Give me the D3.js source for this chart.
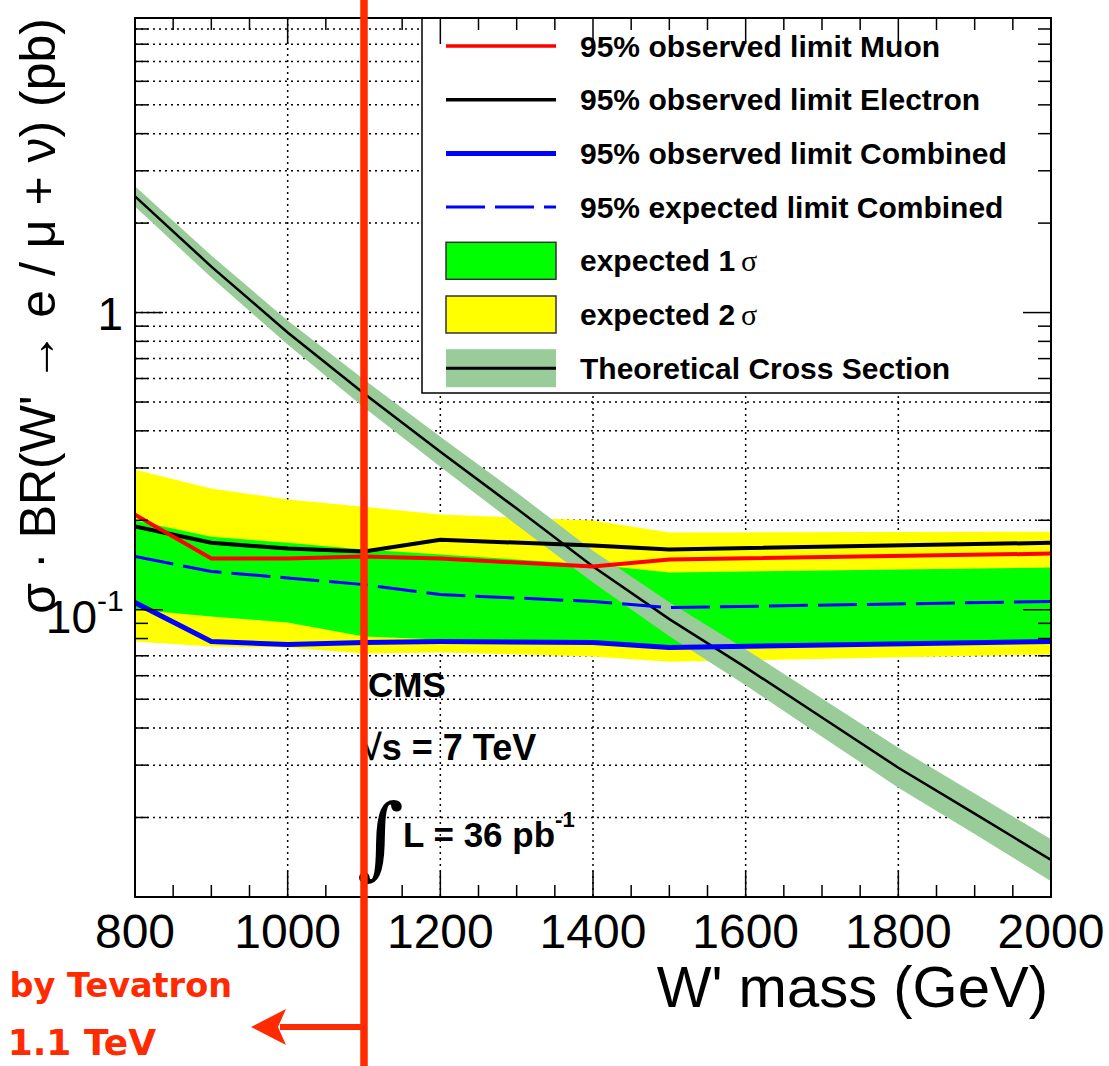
<!DOCTYPE html>
<html>
<head>
<meta charset="utf-8">
<script src="https://cdnjs.cloudflare.com/ajax/libs/d3/7.8.5/d3.min.js"></script>
<style>
  body { margin: 0; background: #fff; }
  svg { font-family: "Liberation Sans", Arial, Helvetica, sans-serif; }
</style>
</head>
<body>
<script>
// Mass points (GeV) where the limits were computed
const massPoints = [800, 900, 1000, 1100, 1200, 1400, 1500, 2000];

// 95% CL limits on sigma x BR (pb)
const obsMuon     = [0.209, 0.1487, 0.1487, 0.151, 0.1487, 0.1397, 0.1476, 0.1545];
const obsElectron = [0.1905, 0.168, 0.1607, 0.157, 0.172, 0.1644, 0.1595, 0.168];
const obsCombined = [0.1057, 0.0782, 0.0764, 0.0776, 0.0782, 0.0776, 0.0746, 0.0782];
const expCombined = [0.151, 0.1345, 0.128, 0.1215, 0.1125, 0.1066, 0.1017, 0.1066];

// expected bands
const exp1Up   = [0.1995, 0.176, 0.168, 0.1595, 0.1534, 0.142, 0.1334, 0.1387];
const exp1Down = [0.1002, 0.0949, 0.0906, 0.0813, 0.0794, 0.0782, 0.0752, 0.0794];
const exp2Up   = [0.296, 0.256, 0.235, 0.222, 0.209, 0.1995, 0.182, 0.183];
const exp2Down = [0.0782, 0.0752, 0.0746, 0.0713, 0.0718, 0.0696, 0.0669, 0.0707];

// theoretical cross section and its band
const theoryMass = [800, 900, 1000, 1100, 1200, 1300, 1400, 1500, 1600, 1700, 1800, 1900, 2000];
const theoryXsec = [2.46, 1.428, 0.857, 0.534, 0.340, 0.219, 0.1397, 0.093, 0.064, 0.0434, 0.0294, 0.0206, 0.0144];
const theoryUp   = [2.66, 1.555, 0.940, 0.595, 0.382, 0.248, 0.158, 0.106, 0.0736, 0.0503, 0.0343, 0.0241, 0.0169];
const theoryDown = [2.276, 1.311, 0.781, 0.479, 0.303, 0.193, 0.1234, 0.0815, 0.0557, 0.0374, 0.0252, 0.0176, 0.0122];

const xTickLabels = [800, 1000, 1200, 1400, 1600, 1800, 2000];
const tevatronLimit = 1100;

const legendLabels = [
  "95% observed limit Muon",
  "95% observed limit Electron",
  "95% observed limit Combined",
  "95% expected limit Combined",
  "expected 1",
  "expected 2",
  "Theoretical Cross Section"
];

// margin convention
const outerWidth = 1109, outerHeight = 1066;
const margin = {top: 18, left: 135, right: 58, bottom: 169};
const width = outerWidth - margin.left - margin.right;
const height = outerHeight - margin.top - margin.bottom;

const xScale = d3.scaleLinear().domain([800, 2000]).range([0, width]);
const yScale = d3.scaleLog().domain([0.0108, 9.8]).range([height, 0]);

const root = d3.select("body").append("svg")
  .attr("width", outerWidth)
  .attr("height", outerHeight);

root.append("defs").append("clipPath").attr("id", "plot-clip")
  .append("rect").attr("width", width).attr("height", height);

const svg = root.append("g")
  .attr("transform", `translate(${margin.left},${margin.top})`);

// tick values
const xMinor = d3.range(800, 2001, 50);
const yMinor = [];
[0.01, 0.1, 1].forEach(dec => {
  for (let k = 1; k <= 9; k++) {
    const v = dec * k;
    if (v > 0.0108 && v < 9.8) yMinor.push(v);
  }
});
const yMajor = [0.1, 1];

// dotted grid
const grid = svg.append("g").attr("stroke", "#000").attr("stroke-width", 1.5)
  .attr("stroke-dasharray", "2,4");
grid.selectAll(".gx").data(xTickLabels).join("line")
  .attr("x1", d => xScale(d)).attr("x2", d => xScale(d))
  .attr("y1", 0).attr("y2", height);
grid.selectAll(".gy").data(yMinor).join("line")
  .attr("x1", 0).attr("x2", width)
  .attr("y1", d => yScale(d)).attr("y2", d => yScale(d));

const plot = svg.append("g").attr("clip-path", "url(#plot-clip)");

const limits = massPoints.map((m, i) => ({
  m, mu: obsMuon[i], el: obsElectron[i], comb: obsCombined[i], exp: expCombined[i],
  u1: exp1Up[i], d1: exp1Down[i], u2: exp2Up[i], d2: exp2Down[i]
}));
const theory = theoryMass.map((m, i) => ({m, v: theoryXsec[i], up: theoryUp[i], dn: theoryDown[i]}));

function band(lo, hi) {
  return d3.area().x(d => xScale(d.m)).y0(d => yScale(d[lo])).y1(d => yScale(d[hi]));
}
function curve(key) {
  return d3.line().x(d => xScale(d.m)).y(d => yScale(d[key]));
}

plot.append("path").datum(limits).attr("fill", "#ffff00").attr("d", band("d2", "u2"));
plot.append("path").datum(limits).attr("fill", "#00ff00").attr("d", band("d1", "u1"));
plot.append("path").datum(theory).attr("fill", "#99cc99").attr("d", band("dn", "up"));
plot.append("path").datum(theory).attr("fill", "none").attr("stroke", "#000")
  .attr("stroke-width", 2.5).attr("d", curve("v"));

plot.append("path").datum(limits).attr("fill", "none").attr("stroke", "#0000ff")
  .attr("stroke-width", 3).attr("stroke-dasharray", "39,10").attr("d", curve("exp"));
plot.append("path").datum(limits).attr("fill", "none").attr("stroke", "#0000ff")
  .attr("stroke-width", 5).attr("d", curve("comb"));
plot.append("path").datum(limits).attr("fill", "none").attr("stroke", "#000")
  .attr("stroke-width", 4).attr("d", curve("el"));
plot.append("path").datum(limits).attr("fill", "none").attr("stroke", "#ff0000")
  .attr("stroke-width", 4).attr("d", curve("mu"));

// CMS labels
svg.append("text").attr("x", 233).attr("y", 679)
  .attr("font-size", 35).attr("font-weight", "bold").text("CMS");
svg.append("text").attr("x", 227).attr("y", 742)
  .attr("font-size", 36).attr("font-weight", "bold").text("\u221As = 7 TeV");
svg.append("text").attr("x", 222).attr("y", 850)
  .attr("font-size", 90)
  .attr("font-family", "'DejaVu Serif', serif").text("\u222B");
const lumi = svg.append("text").attr("x", 268).attr("y", 829)
  .attr("font-size", 35).attr("font-weight", "bold");
lumi.append("tspan").text("L = 36 pb");
lumi.append("tspan").attr("font-size", 22).attr("dy", -20).text("-1");

// legend
const leg = svg.append("g").attr("transform", "translate(287,0)");
leg.append("rect").attr("x", 0).attr("y", 0).attr("width", width - 287).attr("height", 375)
  .attr("fill", "#fff").attr("stroke", "#000").attr("stroke-width", 1.5);
const rowY = d3.range(7).map(i => 28 + i * 53.7);
const sx0 = 24, sx1 = 134;
leg.append("line").attr("x1", sx0).attr("x2", sx1).attr("y1", rowY[0]).attr("y2", rowY[0])
  .attr("stroke", "#ff0000").attr("stroke-width", 3.5);
leg.append("line").attr("x1", sx0).attr("x2", sx1).attr("y1", rowY[1]).attr("y2", rowY[1])
  .attr("stroke", "#000").attr("stroke-width", 3.5);
leg.append("line").attr("x1", sx0).attr("x2", sx1).attr("y1", rowY[2]).attr("y2", rowY[2])
  .attr("stroke", "#0000ff").attr("stroke-width", 5);
leg.append("line").attr("x1", sx0).attr("x2", sx1).attr("y1", rowY[3]).attr("y2", rowY[3])
  .attr("stroke", "#0000ff").attr("stroke-width", 3).attr("stroke-dasharray", "39,10");
leg.append("rect").attr("x", sx0).attr("y", rowY[4] - 18.5).attr("width", sx1 - sx0).attr("height", 37)
  .attr("fill", "#00ff00").attr("stroke", "#333").attr("stroke-width", 1.5);
leg.append("rect").attr("x", sx0).attr("y", rowY[5] - 18.5).attr("width", sx1 - sx0).attr("height", 37)
  .attr("fill", "#ffff00").attr("stroke", "#333").attr("stroke-width", 1.5);
leg.append("rect").attr("x", sx0).attr("y", rowY[6] - 19).attr("width", sx1 - sx0).attr("height", 38)
  .attr("fill", "#99cc99");
leg.append("line").attr("x1", sx0).attr("x2", sx1).attr("y1", rowY[6]).attr("y2", rowY[6])
  .attr("stroke", "#000").attr("stroke-width", 3);

legendLabels.forEach((lab, i) => {
  const t = leg.append("text").attr("x", 158).attr("y", rowY[i] + 10.5)
    .attr("font-size", 30).attr("font-weight", "bold");
  t.append("tspan").text(lab);
  if (i === 4 || i === 5) {
    t.append("tspan").attr("font-family", "'Liberation Serif', serif")
      .attr("font-weight", "normal").attr("dx", 6).text("\u03C3");
  }
});

// frame and inward ticks
svg.append("rect").attr("width", width).attr("height", height)
  .attr("fill", "none").attr("stroke", "#000").attr("stroke-width", 2);
const ticks = svg.append("g").attr("stroke", "#000").attr("stroke-width", 1.5);
xMinor.forEach(v => {
  const len = (v % 200 === 0) ? 26 : 12;
  ticks.append("line").attr("x1", xScale(v)).attr("x2", xScale(v)).attr("y1", height).attr("y2", height - len);
  ticks.append("line").attr("x1", xScale(v)).attr("x2", xScale(v)).attr("y1", 0).attr("y2", len);
});
yMinor.forEach(v => {
  const len = yMajor.includes(v) ? 28 : 13;
  ticks.append("line").attr("x1", 0).attr("x2", len).attr("y1", yScale(v)).attr("y2", yScale(v));
  ticks.append("line").attr("x1", width).attr("x2", width - len).attr("y1", yScale(v)).attr("y2", yScale(v));
});

// tick labels
svg.selectAll(".xl").data(xTickLabels).join("text")
  .attr("x", d => xScale(d)).attr("y", height + 51)
  .attr("text-anchor", "middle").attr("font-size", 48).text(d => d);
svg.append("text").attr("x", -12).attr("y", yScale(1) + 17)
  .attr("text-anchor", "end").attr("font-size", 46).text("1");
svg.append("text").attr("x", -38).attr("y", yScale(0.1) + 23)
  .attr("text-anchor", "end").attr("font-size", 46).text("10");
svg.append("text").attr("x", -38).attr("y", yScale(0.1) + 1)
  .attr("text-anchor", "start").attr("font-size", 30).text("-1");

// axis titles
svg.append("text").attr("x", width - 3).attr("y", height + 110)
  .attr("text-anchor", "end").attr("font-size", 58).text("W' mass (GeV)");
root.append("text").attr("transform", "translate(55,18) rotate(-90)")
  .attr("text-anchor", "end").attr("font-size", 50)
  .text("\u03C3 \u00B7 BR(W' \u2192 e / \u03BC + \u03BD) (pb)");

// Tevatron exclusion line and arrow
const xTev = margin.left + xScale(tevatronLimit);
root.append("line").attr("x1", xTev).attr("x2", xTev).attr("y1", 0).attr("y2", outerHeight)
  .attr("stroke", "#ff2a00").attr("stroke-width", 7.5);
const arrowY = 1027;
root.append("line").attr("x1", xTev).attr("x2", xTev - 84).attr("y1", arrowY).attr("y2", arrowY)
  .attr("stroke", "#ff2a00").attr("stroke-width", 6);
root.append("path")
  .attr("d", `M${xTev - 113},${arrowY} L${xTev - 78},${arrowY - 18} L${xTev - 86},${arrowY} L${xTev - 78},${arrowY + 18} Z`)
  .attr("fill", "#ff2a00");
root.append("text").attr("x", 232).attr("y", 997).attr("text-anchor", "end")
  .attr("font-family", "'DejaVu Sans', sans-serif").attr("font-weight", "bold")
  .attr("font-size", 33.5).attr("fill", "#ff2a00").text("by Tevatron");
root.append("text").attr("x", 156).attr("y", 1055).attr("text-anchor", "end")
  .attr("font-family", "'DejaVu Sans', sans-serif").attr("font-weight", "bold")
  .attr("font-size", 36).attr("fill", "#ff2a00").text("1.1 TeV");
</script>
</body>
</html>
